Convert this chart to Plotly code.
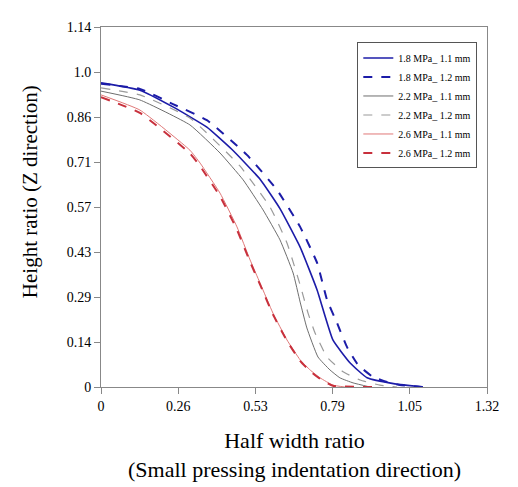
import plotly.graph_objects as go

names = ["1.8 MPa_ 1.1 mm", "1.8 MPa_ 1.2 mm", "2.2 MPa_ 1.1 mm",
         "2.2 MPa_ 1.2 mm", "2.6 MPa_ 1.1 mm", "2.6 MPa_ 1.2 mm"]

x_18_11 = [0, 0.133, 0.246, 0.362, 0.448, 0.544, 0.612, 0.681, 0.739, 0.793, 0.852, 0.910, 1.005, 1.101]
y_18_11 = [0.963, 0.940, 0.887, 0.823, 0.752, 0.658, 0.565, 0.443, 0.307, 0.149, 0.076, 0.029, 0.010, 0.0]

x_18_12 = [0, 0.133, 0.246, 0.362, 0.499, 0.602, 0.681, 0.739, 0.773, 0.807, 0.841, 0.879, 0.930, 0.978, 1.022, 1.10]
y_18_12 = [0.960, 0.944, 0.896, 0.845, 0.735, 0.624, 0.507, 0.393, 0.276, 0.203, 0.127, 0.070, 0.032, 0.016, 0.006, 0.0]

x_22_11 = [0, 0.133, 0.304, 0.407, 0.486, 0.554, 0.612, 0.657, 0.681, 0.704, 0.742, 0.783, 0.817, 0.862, 0.920]
y_22_11 = [0.937, 0.909, 0.830, 0.741, 0.656, 0.561, 0.466, 0.361, 0.269, 0.187, 0.095, 0.054, 0.029, 0.013, 0.0]

x_22_12 = [0, 0.133, 0.304, 0.475, 0.578, 0.636, 0.681, 0.708, 0.732, 0.773, 0.828, 0.886, 0.954, 1.012]
y_22_12 = [0.947, 0.925, 0.852, 0.700, 0.570, 0.456, 0.323, 0.234, 0.171, 0.095, 0.048, 0.022, 0.006, 0.0]

x_26_11 = [0, 0.133, 0.304, 0.339, 0.407, 0.465, 0.510, 0.544, 0.588, 0.636, 0.681, 0.715, 0.749, 0.793, 0.834]
y_26_11 = [0.925, 0.877, 0.750, 0.709, 0.614, 0.507, 0.402, 0.329, 0.234, 0.149, 0.086, 0.054, 0.029, 0.006, 0.0]

x_26_12 = [0, 0.133, 0.304, 0.339, 0.407, 0.465, 0.510, 0.544, 0.588, 0.636, 0.681, 0.715, 0.749, 0.793, 0.95]
y_26_12 = [0.918, 0.868, 0.740, 0.699, 0.604, 0.498, 0.396, 0.324, 0.230, 0.146, 0.083, 0.050, 0.026, 0.004, 0.0]

x_ticks = ["0", "0.26", "0.53", "0.79", "1.05", "1.32"]
y_ticks = ["0", "0.14", "0.29", "0.43", "0.57", "0.71", "0.86", "1.0", "1.14"]

x_title = "Half width ratio<br>(Small pressing indentation direction)"
y_title = "Height ratio (Z direction)"

series = [
    (x_18_11, y_18_11, "#1c1ca8", "solid", 1.6),
    (x_18_12, y_18_12, "#1c1ca8", "dash", 2.0),
    (x_22_11, y_22_11, "#6e6e6e", "solid", 1.0),
    (x_22_12, y_22_12, "#9a9a9a", "dash", 1.2),
    (x_26_11, y_26_11, "#e07878", "solid", 1.0),
    (x_26_12, y_26_12, "#c8303c", "dash", 2.0),
]

fig = go.Figure()
for name, (xs, ys, col, dash, w) in zip(names, series):
    fig.add_trace(go.Scatter(x=xs, y=ys, mode="lines", name=name,
                             line=dict(color=col, dash=dash, width=w,
                                       shape="spline", smoothing=0.4)))

xmax = 1.32
ymax = 1.14
fig.update_layout(
    width=510, height=479,
    margin=dict(l=93, r=31, t=19, b=100, autoexpand=False),
    paper_bgcolor="white", plot_bgcolor="white",
    font=dict(family="Liberation Serif", color="black"),
    showlegend=True,
    legend=dict(x=0.664, y=0.957, xanchor="left", yanchor="top",
                bgcolor="white", bordercolor="#555", borderwidth=1,
                font=dict(size=10, family="Liberation Serif"),
                itemwidth=30, tracegroupgap=0),
    xaxis=dict(range=[0, xmax], tickvals=[i * xmax / 5 for i in range(6)],
               ticktext=x_ticks, automargin=False,
               showgrid=False, zeroline=False, showline=True, linecolor="#888",
               mirror=True, ticks="outside", ticklen=6, tickcolor="#888",
               tickfont=dict(size=14)),
    yaxis=dict(range=[0, ymax], tickvals=[i * ymax / 8 for i in range(9)],
               ticktext=y_ticks, automargin=False,
               showgrid=False, zeroline=False, showline=True, linecolor="#888",
               mirror=True, ticks="outside", ticklen=6, tickcolor="#888",
               tickfont=dict(size=14)),
    annotations=[
        dict(text=x_title, xref="paper", yref="paper", x=0.5, y=-0.189,
             xanchor="center", yanchor="middle", showarrow=False,
             font=dict(size=22, family="Liberation Serif")),
        dict(text=y_title, xref="paper", yref="paper", x=-0.184, y=0.544,
             xanchor="center", yanchor="middle", showarrow=False, textangle=-90,
             font=dict(size=21, family="Liberation Serif")),
    ],
)

fig.write_html("out.html")
